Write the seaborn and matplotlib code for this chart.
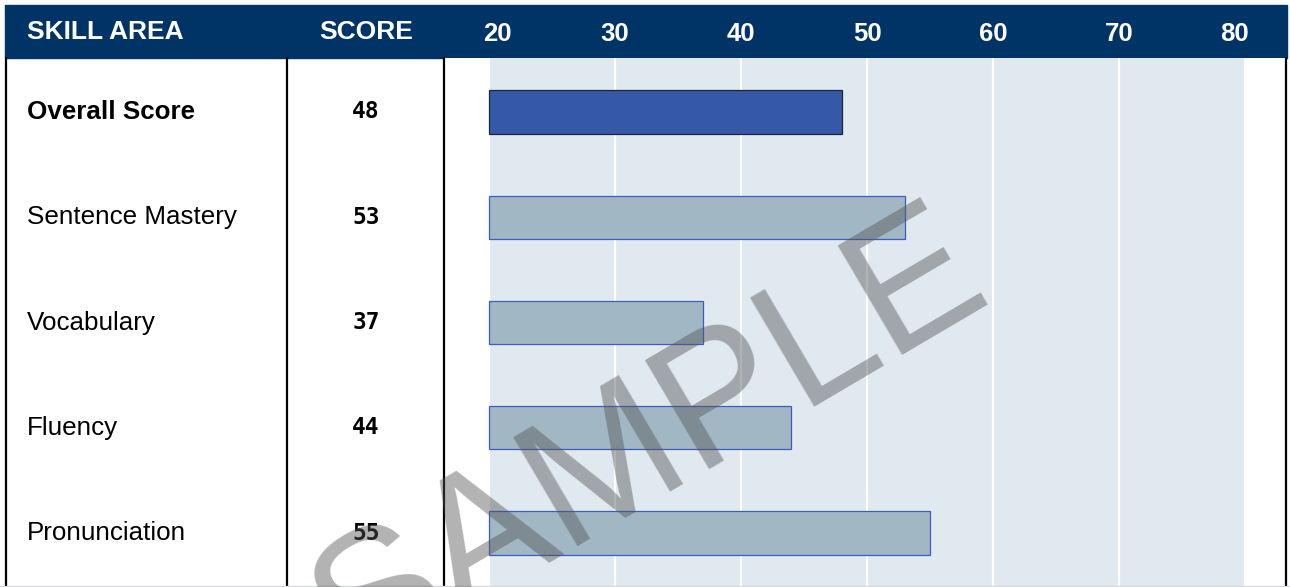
import matplotlib.pyplot as plt
import matplotlib.transforms as mtransforms
from matplotlib.lines import Line2D
from matplotlib.patches import Rectangle
import pandas as pd
import seaborn as sns

sns.set_theme(style='white')

skills = ['Overall Score', 'Sentence Mastery', 'Vocabulary', 'Fluency', 'Pronunciation']
scores = [48, 53, 37, 44, 55]
scale_ticks = [20, 30, 40, 50, 60, 70, 80]
bar_colors = ['#3559A8', '#A1B7C4', '#A1B7C4', '#A1B7C4', '#A1B7C4']
edge_colors = ['#1E2636', '#3B5EC0', '#3B5EC0', '#3B5EC0', '#3B5EC0']

floor = scale_ticks[0]
df = pd.DataFrame({'skill': skills, 'score': scores})
df['above_floor'] = df['score'] - floor

W, H = 1290, 587
fig = plt.figure(figsize=(W / 100, H / 100), dpi=100)


def fx(px):
    return px / W


def fy(py):
    return 1 - py / H


navy = '#003466'
header_top, header_bot = 5, 58

# header band (behind the axes so the tick labels sit on top of it)
fig.patches.append(Rectangle((fx(5), fy(header_bot)), fx(1287) - fx(5),
                             fy(header_top) - fy(header_bot),
                             transform=fig.transFigure, color=navy, zorder=-5))

# bar area
ax = fig.add_axes([fx(444), 0, fx(1286) - fx(444), fy(header_bot)])
sns.barplot(data=df, x='above_floor', y='skill', hue='skill', palette=bar_colors,
            orient='h', width=0.41, legend=False, ax=ax, saturation=1, zorder=3)
for cont, ec in zip(ax.containers, edge_colors):
    for p in cont:
        p.set_edgecolor(ec)
        p.set_linewidth(0.9)

px_per_unit = 12.6
ax.set_xlim(-(489 - 444) / px_per_unit, 60 + (1286 - 1245) / px_per_unit)
ax.set_ylim(4.513, -0.513)
ax.axvspan(-0.1, scale_ticks[-1] - floor, color='#E0E8F0', zorder=0, lw=0)
ax.set_xticks([t - floor for t in scale_ticks])
ax.set_xticklabels([str(t) for t in scale_ticks])
ax.xaxis.tick_top()
ax.tick_params(axis='x', length=0, pad=8.5, labelsize=18.5, labelcolor='white')
for lab in ax.get_xticklabels():
    lab.set_fontfamily('Liberation Sans')
    lab.set_fontweight('bold')
ax.set_yticks([])
ax.set_xlabel('')
ax.set_ylabel('')
ax.grid(axis='x', color='white', lw=1.6, zorder=1)
ax.set_axisbelow(True)
for side in ['top', 'bottom']:
    ax.spines[side].set_visible(False)
for side in ['left', 'right']:
    ax.spines[side].set_color('black')
    ax.spines[side].set_linewidth(1.6)

# nudge the end labels inward, as in the reference
ticks = ax.xaxis.get_major_ticks()
ticks[0].label2.set_transform(ticks[0].label2.get_transform() +
                              mtransforms.ScaledTranslation(8 / 100, 0, fig.dpi_scale_trans))
ticks[-1].label2.set_transform(ticks[-1].label2.get_transform() +
                               mtransforms.ScaledTranslation(-11 / 100, 0, fig.dpi_scale_trans))

fig.text(fx(27), fy(32), 'SKILL AREA', color='white', fontsize=19,
         fontweight='bold', family='Liberation Sans', va='center', ha='left')
fig.text(fx(366), fy(32), 'SCORE', color='white', fontsize=19,
         fontweight='bold', family='Liberation Sans', va='center', ha='center')

# table column lines
for x in [6, 287]:
    fig.add_artist(Line2D([fx(x), fx(x)], [0, fy(header_bot)], color='black',
                          lw=1.6, transform=fig.transFigure))
fig.add_artist(Line2D([0, 1], [fy(586), fy(586)], color='#D5D8DC', lw=1,
                      transform=fig.transFigure))

# row texts, aligned with the bar rows
row_tr = mtransforms.blended_transform_factory(fig.transFigure, ax.transData)
for i, (name, sc) in enumerate(zip(skills, scores)):
    fig.text(fx(27), i, name, transform=row_tr, fontsize=18.7,
             fontweight='bold' if i == 0 else 'normal', family='Liberation Sans',
             va='center', ha='left', color='black')
    fig.text(fx(366), i, str(sc), transform=row_tr, fontsize=16.5,
             fontweight='bold', family='DejaVu Sans Mono', va='center',
             ha='center', color='black')

# watermark
fig.text(fx(650), fy(444), 'SAMPLE', rotation=30.5, fontsize=132,
         family='Liberation Sans', color='#555555', alpha=0.45,
         ha='center', va='center', rotation_mode='anchor', zorder=10)

fig.savefig('out.png', dpi=100)
